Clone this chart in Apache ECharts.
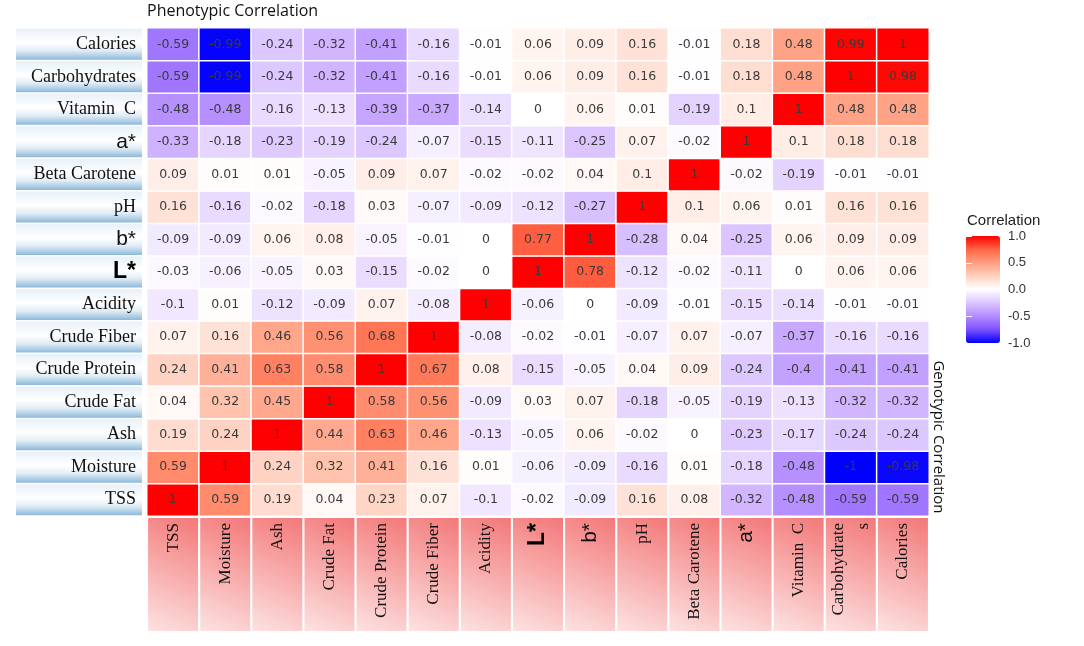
<!DOCTYPE html>
<html>
<head>
<meta charset="utf-8">
<title>Correlation</title>
<script src="https://cdn.jsdelivr.net/npm/echarts@6/dist/echarts.min.js"></script>
<style>
    html, body { margin: 0; padding: 0; background: #fff; }
    #main { width: 1084px; height: 646px; }
</style>
</head>
<body>
<div id="main"></div>
<script>
// traits, bottom to top on the y axis, left to right on the x axis
var traits = ['TSS', 'Moisture', 'Ash', 'Crude Fat', 'Crude Protein', 'Crude Fiber', 'Acidity',
    'L*', 'b*', 'pH', 'Beta Carotene', 'a*', 'Vitamin C', 'Carbohydrates', 'Calories'];

// one array per row, values in the same column order as traits
var rowTSS = [1, 0.59, 0.19, 0.04, 0.23, 0.07, -0.1, -0.02, -0.09, 0.16, 0.08, -0.32, -0.48, -0.59, -0.59];
var rowMoisture = [0.59, 1, 0.24, 0.32, 0.41, 0.16, 0.01, -0.06, -0.09, -0.16, 0.01, -0.18, -0.48, -1, -0.98];
var rowAsh = [0.19, 0.24, 1, 0.44, 0.63, 0.46, -0.13, -0.05, 0.06, -0.02, 0, -0.23, -0.17, -0.24, -0.24];
var rowCrudeFat = [0.04, 0.32, 0.45, 1, 0.58, 0.56, -0.09, 0.03, 0.07, -0.18, -0.05, -0.19, -0.13, -0.32, -0.32];
var rowCrudeProtein = [0.24, 0.41, 0.63, 0.58, 1, 0.67, 0.08, -0.15, -0.05, 0.04, 0.09, -0.24, -0.4, -0.41, -0.41];
var rowCrudeFiber = [0.07, 0.16, 0.46, 0.56, 0.68, 1, -0.08, -0.02, -0.01, -0.07, 0.07, -0.07, -0.37, -0.16, -0.16];
var rowAcidity = [-0.1, 0.01, -0.12, -0.09, 0.07, -0.08, 1, -0.06, 0, -0.09, -0.01, -0.15, -0.14, -0.01, -0.01];
var rowL = [-0.03, -0.06, -0.05, 0.03, -0.15, -0.02, 0, 1, 0.78, -0.12, -0.02, -0.11, 0, 0.06, 0.06];
var rowB = [-0.09, -0.09, 0.06, 0.08, -0.05, -0.01, 0, 0.77, 1, -0.28, 0.04, -0.25, 0.06, 0.09, 0.09];
var rowPH = [0.16, -0.16, -0.02, -0.18, 0.03, -0.07, -0.09, -0.12, -0.27, 1, 0.1, 0.06, 0.01, 0.16, 0.16];
var rowBetaCarotene = [0.09, 0.01, 0.01, -0.05, 0.09, 0.07, -0.02, -0.02, 0.04, 0.1, 1, -0.02, -0.19, -0.01, -0.01];
var rowA = [-0.33, -0.18, -0.23, -0.19, -0.24, -0.07, -0.15, -0.11, -0.25, 0.07, -0.02, 1, 0.1, 0.18, 0.18];
var rowVitaminC = [-0.48, -0.48, -0.16, -0.13, -0.39, -0.37, -0.14, 0, 0.06, 0.01, -0.19, 0.1, 1, 0.48, 0.48];
var rowCarbohydrates = [-0.59, -0.99, -0.24, -0.32, -0.41, -0.16, -0.01, 0.06, 0.09, 0.16, -0.01, 0.18, 0.48, 1, 0.98];
var rowCalories = [-0.59, -0.99, -0.24, -0.32, -0.41, -0.16, -0.01, 0.06, 0.09, 0.16, -0.01, 0.18, 0.48, 0.99, 1];

var legendTicks = [-1, -0.5, 0, 0.5, 1];

var rows = [rowTSS, rowMoisture, rowAsh, rowCrudeFat, rowCrudeProtein, rowCrudeFiber, rowAcidity,
    rowL, rowB, rowPH, rowBetaCarotene, rowA, rowVitaminC, rowCarbohydrates, rowCalories];

var cells = [];
rows.forEach(function (row, y) {
    row.forEach(function (v, x) {
        cells.push([x, y, v]);
    });
});

var sansRich = {
    s: { fontFamily: 'Liberation Sans', fontSize: 21, color: '#111' },
    sb: { fontFamily: 'Liberation Sans', fontSize: 23, fontWeight: 'bold', color: '#000' },
    c: { fontFamily: 'Liberation Serif', fontSize: 17, color: '#111', lineHeight: 25 }
};

function traitLabel(name, onX) {
    if (name === 'L*') return '{sb|L*}';
    if (name === 'a*' || name === 'b*') return '{s|' + name + '}';
    if (onX && name === 'Carbohydrates') return '{c|Carbohydrate}\n{c|s}';
    if (name === 'Vitamin C') return 'Vitamin  C';
    return name;
}

var chart = echarts.init(document.getElementById('main'));

var option = {
    backgroundColor: '#fff',
    animation: false,
    title: {
        text: 'Phenotypic Correlation',
        left: 147,
        top: 3,
        padding: 0,
        textStyle: { fontFamily: 'Open Sans', fontSize: 16, fontWeight: 'normal', color: '#111' }
    },
    grid: [
        { left: 147, right: 155, top: 28, bottom: 130 },
        { left: 966, top: 236, width: 34, height: 107 }
    ],
    xAxis: [{
        type: 'category',
        data: traits,
        gridIndex: 0,
        axisLine: { show: false },
        axisTick: { show: false },
        splitLine: { show: false },
        axisLabel: {
            interval: 0,
            rotate: 90,
            margin: 2,
            align: 'right',
            verticalAlign: 'middle',
            width: 108,
            height: 50,
            lineHeight: 50,
            padding: [0, 5, 0, 0],
            fontFamily: 'Liberation Serif',
            fontSize: 17,
            color: '#111',
            backgroundColor: {
                type: 'linear', x: 0, y: 0, x2: 1, y2: 1,
                colorStops: [
                    { offset: 0, color: '#fde2e2' },
                    { offset: 1, color: '#f37878' }
                ]
            },
            rich: sansRich,
            formatter: function (v) { return traitLabel(v, true); }
        }
    }, {
        type: 'value',
        gridIndex: 1,
        show: false
    }],
    yAxis: [{
        type: 'category',
        data: traits,
        gridIndex: 0,
        axisLine: { show: false },
        axisTick: { show: false },
        splitLine: { show: false },
        axisLabel: {
            interval: 0,
            margin: 5,
            align: 'right',
            verticalAlign: 'middle',
            width: 120,
            height: 31,
            lineHeight: 31,
            padding: [0, 6, 0, 0],
            fontFamily: 'Liberation Serif',
            fontSize: 18,
            color: '#111',
            backgroundColor: {
                type: 'linear', x: 0, y: 0, x2: 0, y2: 1,
                colorStops: [
                    { offset: 0, color: '#e8f1f8' },
                    { offset: 0.45, color: '#ffffff' },
                    { offset: 0.7, color: '#e2edf6' },
                    { offset: 0.9, color: '#a9cbe4' },
                    { offset: 1, color: '#8db7d8' }
                ]
            },
            rich: sansRich,
            formatter: function (v) { return traitLabel(v, false); }
        }
    }, {
        type: 'value',
        gridIndex: 1,
        position: 'right',
        min: -1,
        max: 1,
        interval: 0.5,
        z: 10,
        axisLine: { show: false },
        splitLine: { show: false },
        axisTick: { show: true, inside: true, length: 6, lineStyle: { color: '#fff', width: 1 } },
        axisLabel: {
            margin: 8,
            fontFamily: 'Liberation Sans',
            fontSize: 13,
            color: '#333',
            customValues: legendTicks,
            formatter: function (v) { return v.toFixed(1); }
        }
    }, {
        type: 'value',
        gridIndex: 1,
        position: 'left',
        min: -1,
        max: 1,
        interval: 0.5,
        z: 10,
        axisLine: { show: false },
        splitLine: { show: false },
        axisTick: { show: true, inside: true, length: 6, lineStyle: { color: '#fff', width: 1 } },
        axisLabel: { show: false }
    }],
    visualMap: {
        type: 'continuous',
        min: -1,
        max: 1,
        seriesIndex: 0,
        calculable: false,
        hoverLink: false,
        orient: 'vertical',
        left: 966,
        top: 236,
        padding: 0,
        itemWidth: 34,
        itemHeight: 107,
        text: null,
        showLabel: false,
        inRange: {
            color: ['#0000FF', '#7E51FF', '#B38BFF', '#DCC5FF', '#FFFFFF',
                '#FFD1C0', '#FF9E81', '#FF6746', '#FF0000']
        }
    },
    graphic: [{
        type: 'text',
        left: 967,
        top: 213,
        style: { text: 'Correlation', fontFamily: 'Liberation Sans', fontSize: 15, fill: '#222' }
    }, {
        type: 'text',
        x: 938,
        y: 437,
        rotation: -Math.PI / 2,
        style: {
            text: 'Genotypic Correlation',
            fontFamily: 'Open Sans',
            fontSize: 15,
            fill: '#111',
            align: 'center',
            verticalAlign: 'middle'
        }
    }],
    series: [{
        type: 'heatmap',
        xAxisIndex: 0,
        yAxisIndex: 0,
        data: cells,
        itemStyle: { borderColor: '#fff', borderWidth: 1.5 },
        label: {
            show: true,
            fontFamily: 'DejaVu Sans',
            fontSize: 12.5,
            color: '#3a3a3a',
            formatter: function (p) { return String(p.value[2]); }
        },
        emphasis: { disabled: true }
    }]
};

chart.setOption(option);
</script>
</body>
</html>
